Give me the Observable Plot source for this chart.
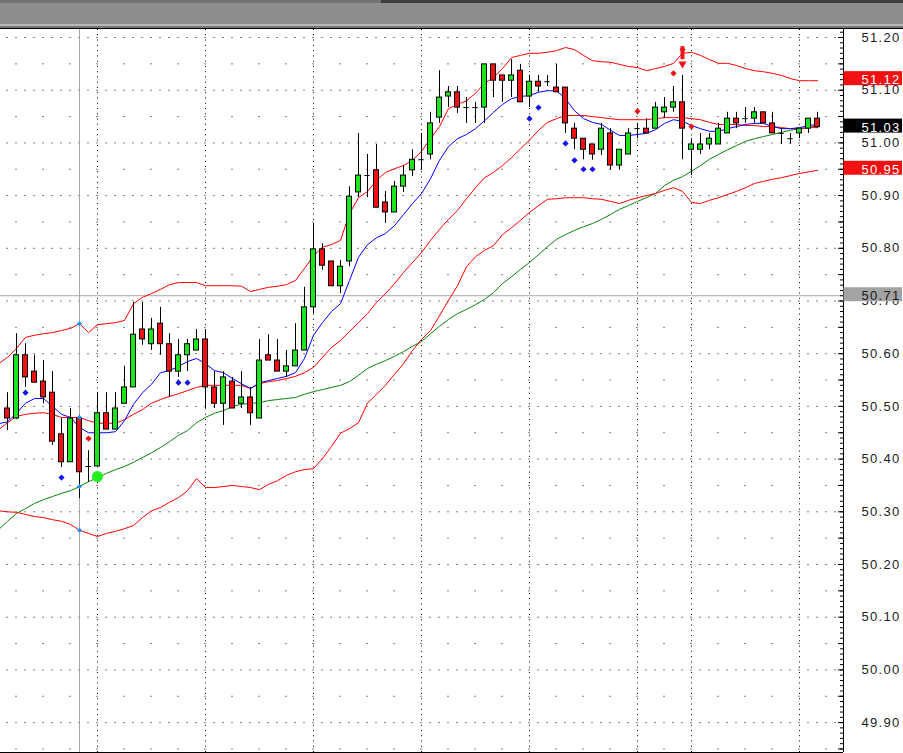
<!DOCTYPE html>
<html><head><meta charset="utf-8">
<script src="https://cdn.jsdelivr.net/npm/d3@7"></script>
<script src="https://cdn.jsdelivr.net/npm/@observablehq/plot@0.6"></script>
<style>
html,body{margin:0;padding:0;background:#fff;width:903px;height:753px;overflow:hidden}
#top{position:relative;height:29px;background:#8d8d8d}
#top div{position:absolute}
#chart svg{display:block}
#chart svg text{letter-spacing:1.3px}
</style></head><body>
<div id="top">
  <div style="left:0;top:0;width:381px;height:3px;background:#747474"></div>
  <div style="left:381px;top:0;right:0;height:3px;background:#3e3e3e"></div>
  <div style="left:0;top:24px;right:0;height:2px;background:#b8b8b8"></div>
  <div style="left:0;top:26px;right:0;height:2px;background:#777"></div>
  <div style="left:0;top:28px;right:0;height:1px;background:#000"></div>
</div>
<div id="chart"></div>
<script>
// ---- candle data (index 0..90) ----
const open = [50.496,50.477,50.597,50.566,50.547,50.526,50.447,50.394,50.477,50.386,
50.386,50.487,50.456,50.505,50.536,50.646,50.618,50.657,50.618,50.566,
50.597,50.606,50.627,50.536,50.505,50.547,50.505,50.517,50.477,50.597,
50.587,50.566,50.576,50.606,50.688,50.798,50.775,50.728,50.775,50.906,
50.938,50.948,50.887,50.868,50.917,50.948,50.968,50.978,51.048,51.088,
51.096,51.067,51.067,51.067,51.149,51.128,51.118,51.137,51.088,51.116,
51.116,51.105,51.105,51.027,51.008,50.997,50.987,51.018,50.957,50.978,
51.027,51.027,51.027,51.058,51.067,51.077,50.987,50.987,50.997,50.997,
51.018,51.046,51.046,51.046,51.058,51.037,51.018,51.008,51.018,51.027,
51.046];
const high = [50.526,50.638,50.619,50.597,50.587,50.566,50.477,50.496,50.483,50.416,
50.526,50.526,50.526,50.576,50.697,50.697,50.667,50.688,50.638,50.627,
50.627,50.646,50.646,50.566,50.566,50.555,50.566,50.536,50.627,50.636,
50.627,50.606,50.657,50.726,50.847,50.809,50.775,50.777,50.917,51.018,
50.978,50.997,50.908,50.927,50.957,50.987,51.018,51.058,51.137,51.107,
51.107,51.086,51.077,51.149,51.149,51.128,51.158,51.149,51.128,51.128,
51.128,51.149,51.105,51.037,51.008,50.997,51.037,51.027,50.987,51.027,
51.037,51.046,51.077,51.086,51.107,51.128,51.008,51.018,51.018,51.037,
51.058,51.058,51.067,51.067,51.058,51.058,51.027,51.018,51.027,51.046,
51.058];
const low = [50.454,50.475,50.536,50.545,50.505,50.426,50.384,50.394,50.325,50.356,
50.386,50.456,50.456,50.505,50.536,50.616,50.606,50.597,50.517,50.555,
50.566,50.606,50.496,50.496,50.464,50.496,50.496,50.464,50.477,50.587,
50.566,50.555,50.576,50.606,50.676,50.758,50.728,50.714,50.765,50.896,
50.896,50.877,50.847,50.868,50.906,50.936,50.948,50.968,51.037,51.067,
51.056,51.037,51.037,51.037,51.086,51.077,51.086,51.077,51.067,51.096,
51.107,51.096,51.018,50.987,50.968,50.967,50.976,50.948,50.948,50.978,
51.008,51.018,51.027,51.046,51.058,50.968,50.938,50.978,50.987,50.997,
51.018,51.027,51.037,51.037,51.037,51.018,50.997,50.997,51.008,51.018,
51.027];
const close = [50.477,50.597,50.555,50.545,50.517,50.433,50.394,50.477,50.375,50.386,
50.487,50.456,50.496,50.536,50.636,50.627,50.646,50.618,50.566,50.597,
50.618,50.627,50.536,50.505,50.555,50.496,50.517,50.487,50.587,50.587,
50.566,50.576,50.606,50.688,50.798,50.767,50.728,50.765,50.898,50.938,
50.938,50.877,50.868,50.917,50.938,50.968,50.968,51.037,51.086,51.096,
51.067,51.067,51.067,51.149,51.118,51.118,51.128,51.077,51.116,51.107,
51.116,51.096,51.037,51.008,50.987,50.978,51.027,50.957,50.987,51.018,
51.027,51.018,51.067,51.067,51.077,51.027,50.997,50.997,51.008,51.027,
51.046,51.037,51.046,51.058,51.037,51.018,51.018,51.008,51.027,51.046,
51.03];

// ---- indicator lines (index -1..90) ----
const lineStart = -1;
const upperBand = [50.581,50.593,50.610,50.631,50.635,50.638,50.640,50.644,50.648,50.657,50.640,
50.655,50.657,50.659,50.663,50.695,50.707,50.714,50.722,50.731,50.735,
50.735,50.735,50.729,50.729,50.729,50.729,50.728,50.718,50.722,50.726,
50.728,50.731,50.739,50.762,50.786,50.802,50.807,50.815,50.866,50.896,
50.908,50.929,50.944,50.951,50.957,50.967,50.984,51.008,51.031,51.065,
51.073,51.080,51.094,51.113,51.124,51.141,51.162,51.166,51.170,51.170,
51.172,51.175,51.181,51.177,51.166,51.156,51.154,51.153,51.149,51.145,
51.143,51.137,51.141,51.145,51.151,51.170,51.172,51.166,51.158,51.151,
51.151,51.147,51.141,51.137,51.135,51.132,51.128,51.122,51.118,51.118,
51.118];
const middleBand = [50.456,50.469,50.481,50.485,50.487,50.488,50.485,50.479,50.479,50.479,50.473,
50.468,50.468,50.468,50.475,50.485,50.494,50.506,50.513,50.519,50.524,
50.530,50.536,50.540,50.540,50.540,50.540,50.540,50.534,50.543,50.547,
50.549,50.553,50.557,50.564,50.574,50.593,50.612,50.625,50.642,50.659,
50.676,50.697,50.714,50.733,50.754,50.773,50.792,50.815,50.836,50.855,
50.872,50.894,50.915,50.934,50.944,50.957,50.972,50.989,51.005,51.024,
51.039,51.046,51.052,51.052,51.052,51.050,51.048,51.046,51.044,51.044,
51.044,51.044,51.046,51.048,51.048,51.048,51.046,51.044,51.039,51.035,
51.035,51.035,51.033,51.033,51.031,51.031,51.029,51.027,51.027,51.029,
51.029];
const lowerBand = [50.302,50.300,50.299,50.295,50.291,50.289,50.285,50.282,50.276,50.265,50.259,
50.253,50.259,50.263,50.268,50.274,50.289,50.302,50.308,50.318,50.327,
50.340,50.363,50.346,50.346,50.348,50.350,50.348,50.346,50.342,50.352,
50.359,50.369,50.376,50.380,50.382,50.401,50.424,50.449,50.458,50.469,
50.506,50.523,50.540,50.561,50.581,50.606,50.627,50.644,50.672,50.701,
50.729,50.765,50.784,50.796,50.805,50.826,50.839,50.853,50.868,50.881,
50.893,50.894,50.896,50.896,50.896,50.894,50.893,50.889,50.885,50.891,
50.896,50.900,50.904,50.910,50.915,50.908,50.887,50.885,50.891,50.896,
50.902,50.908,50.915,50.923,50.927,50.931,50.934,50.938,50.942,50.945,
50.948];
const fastMA = [50.467,50.471,50.487,50.506,50.515,50.515,50.500,50.485,50.479,50.460,50.450,
50.450,50.450,50.452,50.473,50.504,50.526,50.542,50.564,50.568,50.576,
50.585,50.591,50.581,50.568,50.564,50.553,50.543,50.534,50.545,50.549,
50.553,50.557,50.564,50.591,50.635,50.659,50.680,50.695,50.739,50.783,
50.807,50.820,50.828,50.843,50.864,50.885,50.904,50.932,50.967,50.993,
51.008,51.016,51.027,51.042,51.058,51.073,51.084,51.088,51.090,51.096,
51.099,51.099,51.084,51.061,51.046,51.039,51.035,51.024,51.014,51.014,
51.016,51.018,51.025,51.037,51.044,51.041,51.033,51.027,51.022,51.022,
51.027,51.031,51.035,51.037,51.037,51.031,51.027,51.027,51.029,51.033,
51.035];
const slowMA = [50.266,50.282,50.297,50.306,50.316,50.323,50.329,50.335,50.340,50.348,50.357,
50.365,50.373,50.380,50.386,50.394,50.403,50.412,50.422,50.433,50.445,
50.454,50.469,50.479,50.487,50.492,50.500,50.504,50.506,50.507,50.511,
50.513,50.515,50.517,50.523,50.528,50.532,50.536,50.540,50.547,50.559,
50.572,50.580,50.587,50.595,50.604,50.614,50.623,50.638,50.652,50.665,
50.676,50.684,50.693,50.703,50.716,50.733,50.746,50.760,50.773,50.788,
50.803,50.817,50.826,50.834,50.841,50.847,50.855,50.864,50.874,50.881,
50.889,50.896,50.904,50.919,50.929,50.936,50.946,50.957,50.969,50.978,
50.987,50.995,51.003,51.008,51.012,51.016,51.020,51.024,51.027,51.029,
51.033];

// ---- signal markers ----
const blueSigIdx = [2, 6, 19, 20, 58, 59, 62, 63, 64, 65];
const blueSigVal = [50.526, 50.365, 50.545, 50.545, 51.046, 51.067, 50.999, 50.967, 50.950, 50.950];
const redSigIdx = [9, 70, 74, 75, 76];
const redSigVal = [50.439, 51.060, 51.132, 51.177, 51.031];
const arrowIdx = [75];
const arrowTip = [51.139];
const buyDotIdx = [10];
const buyDotVal = [50.367];

// ---- crosshair & axis ----
const crossIdx = 8;
const crossVal = 50.71;
const gridIdx = [10, 22, 34, 46, 58, 70, 76, 88];
const tickValues = [49.9, 50.0, 50.1, 50.2, 50.3, 50.4, 50.5, 50.6, 50.7, 50.8, 50.9, 51.0, 51.1, 51.2];
const tickLabels = ["49.90","50.00","50.10","50.20","50.30","50.40","50.50","50.60","50.70","50.80","50.90","51.00","51.10","51.20"];
const halfTicks = [49.85, 49.95, 50.05, 50.15, 50.25, 50.35, 50.45, 50.55, 50.65, 50.75, 50.85, 50.95, 51.05, 51.15];
const boxValues = [51.12, 51.03, 50.95, 50.71];
const boxLabels = ["51.12", "51.03", "50.95", "50.71"];
const boxBg = ["#f21010", "#000000", "#f21010", "#a3a3a3"];
const boxFg = ["#ffffff", "#ffffff", "#ffffff", "#1a1a1a"];

// ---- build tables ----
const candles = open.map((o, k) => ({i: k, o, h: high[k], l: low[k], c: close[k]}));
const bodies = candles.filter(d => Math.abs(d.c - d.o) >= 0.002);
const dojis = candles.filter(d => Math.abs(d.c - d.o) < 0.002);
const series = (arr) => arr.map((v, k) => ({i: k + lineStart, v}));
const at = (arr, i) => arr[i - lineStart];
const blueSig = blueSigIdx.map((i, k) => ({i, v: blueSigVal[k]}));
const redSig = redSigIdx.map((i, k) => ({i, v: redSigVal[k]}));
const arrows = arrowIdx.map((i, k) => ({i, v: arrowTip[k]}));
const buyDots = buyDotIdx.map((i, k) => ({i, v: buyDotVal[k]}));
const crossMarks = [upperBand, middleBand, slowMA, lowerBand].map(a => ({i: crossIdx, v: at(a, crossIdx)}));
const boxes = boxValues.map((v, k) => ({v, t: boxLabels[k], bg: boxBg[k], fg: boxFg[k]}));
const ticks = tickValues.map((v, k) => ({v, t: tickLabels[k]}));
const minorTicks = d3.range(4985, 5122).map(k => k / 100);

// scale geometry: candle k at 7+9k px, plot area 0..843 px
const xMin = -7 / 9, xMax = 836 / 9;
const xLabel = 854 / 9, xEnd = 895 / 9;
const pxY = 1 / 527;
const yMin = 51.20 - 715 * pxY, yMax = 51.20 + 8 * pxY;

const GREEN = "#1ee41e", RED = "#ee1212";

const chart = Plot.plot({
  width: 903, height: 724,
  marginLeft: 0, marginRight: 60, marginTop: 0, marginBottom: 1,
  x: {type: "linear", domain: [xMin, xMax], axis: null},
  y: {type: "linear", domain: [yMin, yMax], axis: null},
  color: {type: "identity"},
  style: {background: "#fff", fontFamily: "'Liberation Sans', Arial, sans-serif", fontSize: "13px", overflow: "visible"},
  marks: [
    // grid
    Plot.ruleY(tickValues, {x1: () => xMin, x2: () => xMax, stroke: "#000", strokeDasharray: "1,8", strokeDashoffset: 2.5}),
    Plot.ruleY(halfTicks, {x1: () => xMin, x2: () => xMax, stroke: "#000", strokeDasharray: "1,26", strokeDashoffset: 11.5}),
    Plot.ruleX(gridIdx, {stroke: "#000", strokeDasharray: "1,4.27"}),
    // crosshair
    Plot.ruleX([crossIdx], {stroke: "#a8a8a8"}),
    Plot.ruleY([crossVal], {stroke: "#a8a8a8"}),
    // indicator lines
    Plot.line(series(slowMA), {x: "i", y: "v", stroke: "#0a840a", strokeWidth: 1, clip: true}),
    Plot.line(series(lowerBand), {x: "i", y: "v", stroke: "#ff0000", strokeWidth: 1, clip: true}),
    Plot.line(series(upperBand), {x: "i", y: "v", stroke: "#ff0000", strokeWidth: 1, clip: true}),
    Plot.line(series(middleBand), {x: "i", y: "v", stroke: "#ff0000", strokeWidth: 1, clip: true}),
    Plot.line(series(fastMA), {x: "i", y: "v", stroke: "#0000ff", strokeWidth: 1, clip: true}),
    // candles
    Plot.ruleX(candles, {x: "i", y1: "l", y2: "h", stroke: "#000", strokeWidth: 1, clip: true}),
    Plot.rect(bodies, {x1: d => d.i - 0.28, x2: d => d.i + 0.28, y1: "o", y2: "c",
      fill: d => d.c > d.o ? GREEN : RED, stroke: "#000", strokeWidth: 1, clip: true}),
    Plot.ruleY(dojis, {y: "c", x1: d => d.i - 0.3, x2: d => d.i + 0.3, stroke: "#000", strokeWidth: 1}),
    // markers
    Plot.dot(blueSig, {x: "i", y: "v", symbol: "diamond2", r: 2.8, fill: "#1414f0", stroke: null}),
    Plot.dot(redSig, {x: "i", y: "v", symbol: "diamond2", r: 2.8, fill: "#ee1414", stroke: null}),
    Plot.dot(crossMarks, {x: "i", y: "v", symbol: "diamond2", r: 2.3, fill: "#1e90ff", stroke: null}),
    Plot.dot(buyDots, {x: "i", y: "v", r: 5.5, fill: "#22ee22", stroke: null}),
    Plot.ruleX(arrows, {x: "i", y1: d => d.v + 10 * pxY, y2: d => d.v + 23 * pxY, stroke: "#ee1414", strokeWidth: 4}),
    Plot.dot(arrows, {x: "i", y: d => d.v + 5.8 * pxY, symbol: "triangle2", rotate: 180, r: 3.9, fill: "#ee1414", stroke: null}),
    // right axis
    Plot.ruleY(minorTicks, {x1: () => xMax - 3 / 9, x2: () => xMax, stroke: "#000"}),
    Plot.ruleY(halfTicks.concat(tickValues), {x1: () => xMax - 5 / 9, x2: () => xMax, stroke: "#000"}),
    Plot.ruleX([xMax], {stroke: "#000"}),
    Plot.ruleY([yMin], {x1: () => xMin, x2: () => xMax, stroke: "#000"}),
    Plot.text(ticks, {x: () => xLabel, y: "v", text: "t", textAnchor: "start", fill: "#1c1c24", fontSize: 13}),
    // value boxes
    Plot.rect(boxes, {x1: () => xMax + 0.05, x2: () => xEnd, y1: d => d.v - 6 * pxY, y2: d => d.v + 8 * pxY, fill: "bg"}),
    Plot.text(boxes, {x: () => xLabel, y: d => d.v - 0.5 * pxY, text: "t", textAnchor: "start", fill: "fg", fontSize: 13})
  ]
});
document.getElementById("chart").appendChild(chart);
</script>
</body></html>
